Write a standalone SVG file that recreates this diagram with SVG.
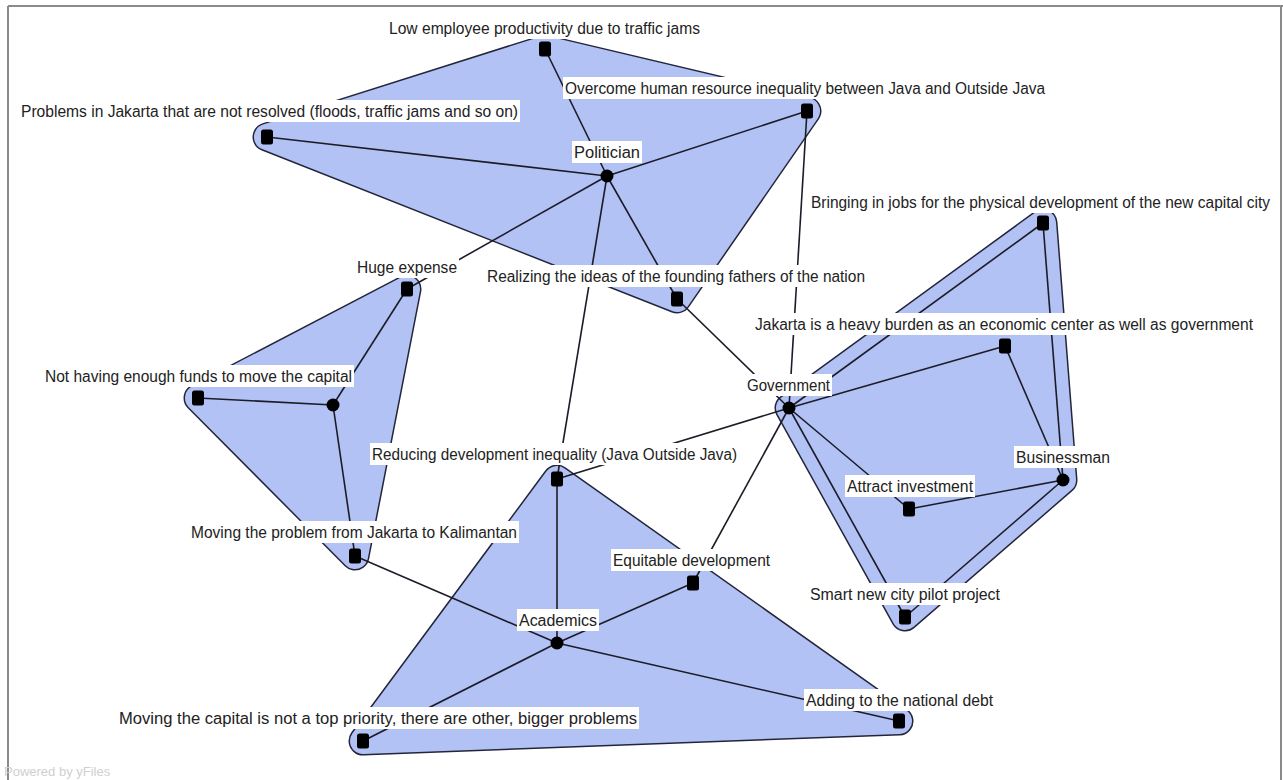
<svg xmlns="http://www.w3.org/2000/svg" width="1283" height="780" viewBox="0 0 1283 780">
  <style>
    .hull-edge { fill: #23263a; stroke: #23263a; stroke-width: 29; stroke-linejoin: round; }
    .hull-body { fill: #b3c2f4; stroke: #b3c2f4; stroke-width: 26; stroke-linejoin: round; }
    .edge { stroke: #1c1c28; stroke-width: 1.6; fill: none; }
    .sq { fill: #000; }
    .dot { fill: #000; }
    .lbl-bg { fill: #ffffff; }
    .lbl { font-family: "Liberation Sans", Arial, sans-serif; font-size: 16px; fill: #222; }
    .frame { stroke: #8a8a8a; stroke-width: 2; fill: none; }
    .brand { font-family: "Liberation Sans", Arial, sans-serif; font-size: 13px; fill: #cfcfcf; }
  </style>
  <defs>
    <rect id="sqshape" x="-6" y="-7.5" width="12" height="15" rx="2.5"/>
  </defs>

  <rect x="0" y="0" width="1283" height="780" fill="#ffffff"/>

  <!-- frame -->
  <line class="frame" x1="8" y1="6" x2="1283" y2="6" stroke-width="2.5"/>
  <line class="frame" x1="8" y1="6" x2="8" y2="780" stroke="#9a9a9a"/>
  <line class="frame" x1="1281" y1="6" x2="1281" y2="780" stroke="#a8a8a8"/>

  <!-- group hulls -->
  <g id="hulls">
    <g id="hull-politician">
      <polygon class="hull-edge" points="267,137 545,49 807,111 677,299"/>
      <polygon class="hull-body" points="267,137 545,49 807,111 677,299"/>
    </g>
    <g id="hull-business">
      <polygon class="hull-edge" points="789,408 1043,223 1063,480 905,617"/>
      <polygon class="hull-body" points="789,408 1043,223 1063,480 905,617"/>
    </g>
    <g id="hull-ngo">
      <polygon class="hull-edge" points="198,398 407,289 355,556"/>
      <polygon class="hull-body" points="198,398 407,289 355,556"/>
    </g>
    <g id="hull-academics">
      <polygon class="hull-edge" points="557,479 899,721 363,741"/>
      <polygon class="hull-body" points="557,479 899,721 363,741"/>
    </g>
  </g>

  <!-- connectors -->
  <g id="connectors">
    <!-- Politician -->
    <line class="edge" x1="607" y1="176" x2="545" y2="49"/>
    <line class="edge" x1="607" y1="176" x2="807" y2="111"/>
    <line class="edge" x1="607" y1="176" x2="267" y2="137"/>
    <line class="edge" x1="607" y1="176" x2="407" y2="289"/>
    <line class="edge" x1="607" y1="176" x2="677" y2="299"/>
    <line class="edge" x1="607" y1="176" x2="557" y2="479"/>
    <!-- Government -->
    <line class="edge" x1="789" y1="408" x2="807" y2="111"/>
    <line class="edge" x1="789" y1="408" x2="677" y2="299"/>
    <line class="edge" x1="789" y1="408" x2="1005" y2="346"/>
    <line class="edge" x1="789" y1="408" x2="1043" y2="223"/>
    <line class="edge" x1="789" y1="408" x2="557" y2="479"/>
    <line class="edge" x1="789" y1="408" x2="693" y2="583"/>
    <line class="edge" x1="789" y1="408" x2="909" y2="509"/>
    <line class="edge" x1="789" y1="408" x2="905" y2="617"/>
    <!-- Businessman -->
    <line class="edge" x1="1063" y1="480" x2="1043" y2="223"/>
    <line class="edge" x1="1063" y1="480" x2="1005" y2="346"/>
    <line class="edge" x1="1063" y1="480" x2="909" y2="509"/>
    <line class="edge" x1="1063" y1="480" x2="905" y2="617"/>
    <!-- unlabelled actor -->
    <line class="edge" x1="333" y1="405" x2="198" y2="398"/>
    <line class="edge" x1="333" y1="405" x2="407" y2="289"/>
    <line class="edge" x1="333" y1="405" x2="355" y2="556"/>
    <!-- Academics -->
    <line class="edge" x1="557" y1="643" x2="557" y2="479"/>
    <line class="edge" x1="557" y1="643" x2="693" y2="583"/>
    <line class="edge" x1="557" y1="643" x2="355" y2="556"/>
    <line class="edge" x1="557" y1="643" x2="363" y2="741"/>
    <line class="edge" x1="557" y1="643" x2="899" y2="721"/>
  </g>

  <!-- nodes -->
  <g id="n-low"><use href="#sqshape" class="sq" x="545" y="49"/></g>
  <g id="n-overcome"><use href="#sqshape" class="sq" x="807" y="111"/></g>
  <g id="n-problems"><use href="#sqshape" class="sq" x="267" y="137"/></g>
  <g id="n-politician"><circle class="dot" cx="607" cy="176" r="6.5"/></g>
  <g id="n-huge"><use href="#sqshape" class="sq" x="407" y="289"/></g>
  <g id="n-realizing"><use href="#sqshape" class="sq" x="677" y="299"/></g>
  <g id="n-bringing"><use href="#sqshape" class="sq" x="1043" y="223"/></g>
  <g id="n-jakarta"><use href="#sqshape" class="sq" x="1005" y="346"/></g>
  <g id="n-government"><circle class="dot" cx="789" cy="408" r="6.5"/></g>
  <g id="n-funds"><use href="#sqshape" class="sq" x="198" y="398"/></g>
  <g id="n-actor"><circle class="dot" cx="333" cy="405" r="6.5"/></g>
  <g id="n-reducing"><use href="#sqshape" class="sq" x="557" y="479"/></g>
  <g id="n-businessman"><circle class="dot" cx="1063" cy="480" r="6.5"/></g>
  <g id="n-attract"><use href="#sqshape" class="sq" x="909" y="509"/></g>
  <g id="n-moveproblem"><use href="#sqshape" class="sq" x="355" y="556"/></g>
  <g id="n-equitable"><use href="#sqshape" class="sq" x="693" y="583"/></g>
  <g id="n-smart"><use href="#sqshape" class="sq" x="905" y="617"/></g>
  <g id="n-academics"><circle class="dot" cx="557" cy="643" r="6.5"/></g>
  <g id="n-debt"><use href="#sqshape" class="sq" x="899" y="721"/></g>
  <g id="n-priority"><use href="#sqshape" class="sq" x="363" y="741"/></g>

  <!-- labels -->
  <g id="labels">
    <rect class="lbl-bg" x="387" y="17" width="315" height="22"/>
    <text class="lbl" x="389" y="34" textLength="311" lengthAdjust="spacingAndGlyphs">Low employee productivity due to traffic jams</text>

    <rect class="lbl-bg" x="563" y="77" width="484" height="22"/>
    <text class="lbl" x="565" y="94" textLength="480" lengthAdjust="spacingAndGlyphs">Overcome human resource inequality between Java and Outside Java</text>

    <rect class="lbl-bg" x="19" y="100" width="501" height="22"/>
    <text class="lbl" x="21" y="117" textLength="497" lengthAdjust="spacingAndGlyphs">Problems in Jakarta that are not resolved (floods, traffic jams and so on)</text>

    <rect class="lbl-bg" x="572" y="141" width="70" height="22"/>
    <text class="lbl" x="574" y="158" textLength="66" lengthAdjust="spacingAndGlyphs">Politician</text>

    <rect class="lbl-bg" x="355" y="256" width="104" height="22"/>
    <text class="lbl" x="357" y="273" textLength="100" lengthAdjust="spacingAndGlyphs">Huge expense</text>

    <rect class="lbl-bg" x="485" y="265" width="382" height="22"/>
    <text class="lbl" x="487" y="282" textLength="378" lengthAdjust="spacingAndGlyphs">Realizing the ideas of the founding fathers of the nation</text>

    <rect class="lbl-bg" x="809" y="191" width="464" height="22"/>
    <text class="lbl" x="811" y="208" textLength="459" lengthAdjust="spacingAndGlyphs">Bringing in jobs for the physical development of the new capital city</text>

    <rect class="lbl-bg" x="753" y="313" width="502" height="22"/>
    <text class="lbl" x="755" y="330" textLength="498" lengthAdjust="spacingAndGlyphs">Jakarta is a heavy burden as an economic center as well as government</text>

    <rect class="lbl-bg" x="745" y="374" width="87" height="22"/>
    <text class="lbl" x="747" y="391" textLength="83" lengthAdjust="spacingAndGlyphs">Government</text>

    <rect class="lbl-bg" x="43" y="365" width="311" height="22"/>
    <text class="lbl" x="45" y="382" textLength="307" lengthAdjust="spacingAndGlyphs">Not having enough funds to move the capital</text>

    <rect class="lbl-bg" x="370" y="443" width="369" height="22"/>
    <text class="lbl" x="372" y="460" textLength="365" lengthAdjust="spacingAndGlyphs">Reducing development inequality (Java Outside Java)</text>

    <rect class="lbl-bg" x="1014" y="446" width="98" height="22"/>
    <text class="lbl" x="1016" y="463" textLength="94" lengthAdjust="spacingAndGlyphs">Businessman</text>

    <rect class="lbl-bg" x="845" y="475" width="130" height="22"/>
    <text class="lbl" x="847" y="492" textLength="126" lengthAdjust="spacingAndGlyphs">Attract investment</text>

    <rect class="lbl-bg" x="189" y="521" width="330" height="22"/>
    <text class="lbl" x="191" y="538" textLength="326" lengthAdjust="spacingAndGlyphs">Moving the problem from Jakarta to Kalimantan</text>

    <rect class="lbl-bg" x="611" y="549" width="161" height="22"/>
    <text class="lbl" x="613" y="566" textLength="157" lengthAdjust="spacingAndGlyphs">Equitable development</text>

    <rect class="lbl-bg" x="808" y="583" width="194" height="22"/>
    <text class="lbl" x="810" y="600" textLength="190" lengthAdjust="spacingAndGlyphs">Smart new city pilot project</text>

    <rect class="lbl-bg" x="517" y="609" width="82" height="22"/>
    <text class="lbl" x="519" y="626" textLength="78" lengthAdjust="spacingAndGlyphs">Academics</text>

    <rect class="lbl-bg" x="804" y="689" width="191" height="22"/>
    <text class="lbl" x="806" y="706" textLength="187" lengthAdjust="spacingAndGlyphs">Adding to the national debt</text>

    <rect class="lbl-bg" x="117" y="707" width="522" height="22"/>
    <text class="lbl" x="119" y="724" textLength="518" lengthAdjust="spacingAndGlyphs">Moving the capital is not a top priority, there are other, bigger problems</text>
  </g>

  <text class="brand" x="4" y="776">Powered by yFiles</text>
</svg>
